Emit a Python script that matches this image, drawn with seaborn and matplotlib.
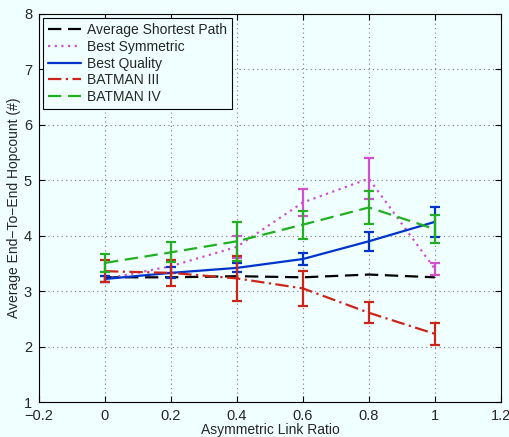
import matplotlib
matplotlib.use("Agg")
import matplotlib.pyplot as plt
import seaborn as sns
import pandas as pd
import numpy as np

ratio = [0, 0.2, 0.4, 0.6, 0.8, 1.0]
series_names = ["Average Shortest Path", "Best Symmetric", "Best Quality", "BATMAN III", "BATMAN IV"]
avg_shortest = [3.25, 3.25, 3.27, 3.25, 3.30, 3.25]
best_symmetric = [3.22, 3.45, 3.80, 4.60, 5.03, 3.40]
best_symmetric_err = [0.05, 0.12, 0.20, 0.24, 0.37, 0.10]
best_quality = [3.22, 3.33, 3.42, 3.58, 3.90, 4.25]
best_quality_err = [0.05, 0.10, 0.08, 0.10, 0.17, 0.27]
batman3 = [3.36, 3.33, 3.23, 3.05, 2.61, 2.23]
batman3_err = [0.20, 0.23, 0.40, 0.31, 0.19, 0.20]
batman4 = [3.51, 3.70, 3.90, 4.20, 4.51, 4.12]
batman4_err = [0.16, 0.18, 0.35, 0.25, 0.30, 0.25]

colors = ["#000000", "#D050D0", "#0033CC", "#CC2418", "#22B022"]
styles = [(0, (6, 3)), (0, (1, 2)), "-", (0, (6, 2, 1, 2)), (0, (6, 3))]
values = [avg_shortest, best_symmetric, best_quality, batman3, batman4]
errs = [None, best_symmetric_err, best_quality_err, batman3_err, batman4_err]

rows = []
for name, vals in zip(series_names, values):
    for r, v in zip(ratio, vals):
        rows.append({"ratio": r, "hop": v, "series": name})
df = pd.DataFrame(rows)

sns.set_style("white")
plt.rcParams["font.family"] = ["Liberation Sans", "DejaVu Sans"]

bg = "#F0FFFF"
fig = plt.figure(figsize=(5.10, 4.37), dpi=100, facecolor=bg)
ax = fig.add_axes([0.0765, 0.080, 0.9055, 0.888])
ax.set_facecolor(bg)

for name, vals, err, c, ls in zip(series_names, values, errs, colors, styles):
    sub = df[df["series"] == name]
    sns.lineplot(data=sub, x="ratio", y="hop", ax=ax, color=c, linestyle=ls,
                 linewidth=1.6, label=name, estimator=None, errorbar=None)
    if err is not None:
        ax.errorbar(ratio, vals, yerr=err, fmt="none", ecolor=c, elinewidth=1.6,
                    capsize=3.5, capthick=1.6)

ax.set_xlim(-0.2, 1.2)
ax.set_ylim(1, 8)
ax.set_xticks(np.arange(-0.2, 1.21, 0.2))
ax.set_xticklabels(["\u22120.2", "0", "0.2", "0.4", "0.6", "0.8", "1", "1.2"])
ax.set_yticks(range(1, 9))
ax.grid(True, linestyle=(0, (1, 3)), color="#777777", linewidth=0.8)
ax.tick_params(axis="both", labelsize=10.5, direction="in", length=4, color="black",
               bottom=True, left=True, top=True, right=True)
ax.tick_params(axis="x", pad=5)
ax.tick_params(axis="y", pad=5)
for s in ax.spines.values():
    s.set_color("black")
    s.set_linewidth(0.8)
ax.set_xlabel("Asymmetric Link Ratio", fontsize=10, labelpad=0)
ax.set_ylabel("Average End\u2212To\u2212End Hopcount (#)", fontsize=10, labelpad=2)

leg = ax.legend(loc="upper left", fontsize=10, frameon=True, fancybox=False,
                edgecolor="black", facecolor=bg, framealpha=1,
                handlelength=2.4, handletextpad=0.4, borderpad=0.35,
                labelspacing=0.2, borderaxespad=0.3)
leg.get_frame().set_linewidth(0.8)

fig.savefig("out.png", dpi=100, facecolor=bg)
